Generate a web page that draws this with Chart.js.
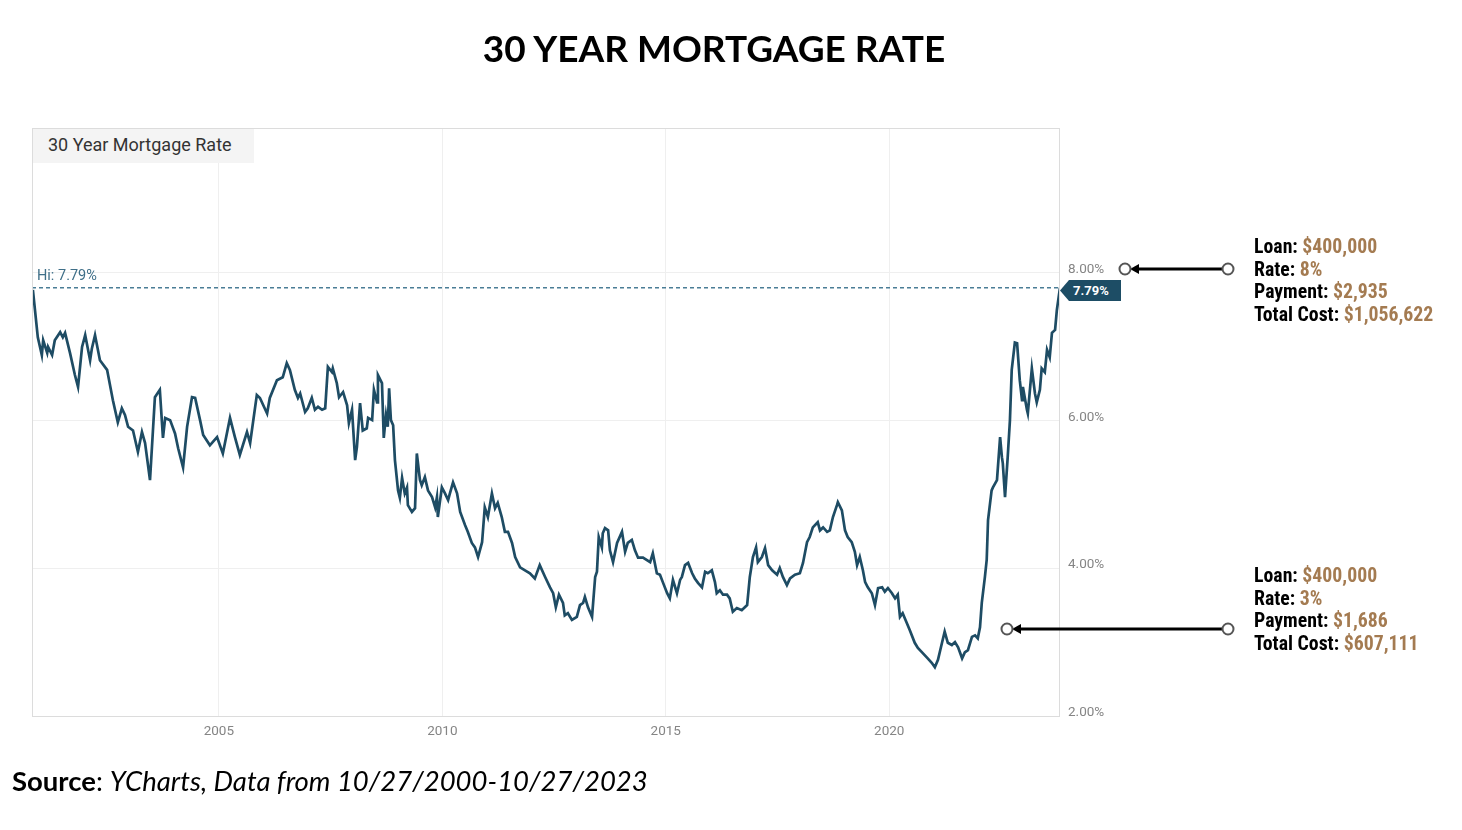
<!DOCTYPE html>
<html lang="en">
<head>
  <meta charset="UTF-8">
  <title>30 Year Mortgage Rate</title>
  <script src="https://cdn.jsdelivr.net/npm/chart.js"></script>
  <style>
    /* page frame: everything sits on a fixed 1462x830 stage */
    body { margin: 0; background: #fff; }
    #stage { position: relative; width: 1462px; height: 830px; overflow: hidden; }
    #stage canvas { position: absolute; left: 0; top: 0; }
    .title {
      position: absolute; left: 0; width: 1428px; top: 26px; text-align: center;
      font: 700 37px Lato, 'Open Sans', sans-serif; color: #000; line-height: 44px;
    }
    .boxLabel {
      position: absolute; left: 33px; top: 129px; width: 221px; height: 34px;
      background: #f4f4f4; font: 400 18px Roboto, sans-serif; color: #333;
      line-height: 32px; padding-left: 15px; box-sizing: border-box;
    }
    .hiLabel {
      position: absolute; left: 37px; top: 267px;
      font: 400 14.5px Roboto, sans-serif; color: #3f6f88; line-height: 18px;
    }
    .tag {
      position: absolute; left: 1060px; top: 280px; width: 61px; height: 21px;
      background: #1d4d65; color: #fff; font: 700 13px Roboto, sans-serif;
      line-height: 21px; padding-left: 13px; box-sizing: border-box;
      clip-path: polygon(0 50%, 9px 0, 100% 0, 100% 100%, 9px 100%);
    }
    .note {
      position: absolute; left: 1254px;
      font: 700 19.8px 'Liberation Sans Narrow', 'Roboto Condensed', 'DejaVu Sans Condensed', Roboto, sans-serif;
      line-height: 22.7px; color: #000; white-space: nowrap;
    }
    .note span { color: #a47b51; }
    .source {
      position: absolute; left: 12px; top: 763px;
      font: 400 27.5px Lato, 'Open Sans', sans-serif; color: #000; line-height: 36px;
    }
    .source b { font-weight: 700; }
    .source i { font-style: italic; }
  </style>
</head>
<body>
<div id="stage">
  <canvas id="rateChart" width="1462" height="830"></canvas>
  <div class="title">30 YEAR MORTGAGE RATE</div>
  <div class="boxLabel">30 Year Mortgage Rate</div>
  <div class="hiLabel" id="hiLabel"></div>
  <div class="tag" id="lastTag"></div>
  <div class="note" style="top:236px">
    Loan: <span>$400,000</span><br>Rate: <span>8%</span><br>Payment: <span>$2,935</span><br>Total Cost: <span>$1,056,622</span>
  </div>
  <div class="note" style="top:565px">
    Loan: <span>$400,000</span><br>Rate: <span>3%</span><br>Payment: <span>$1,686</span><br>Total Cost: <span>$607,111</span>
  </div>
  <div class="source"><b>Source</b>: <i>YCharts, Data from 10/27/2000-10/27/2023</i></div>
</div>

<script>
  // weekly-ish readings of the 30 year fixed rate (decimal year, percent)
  const dates = [
    2000.84, 2000.95,
    2001.04, 2001.07, 2001.16, 2001.18, 2001.27, 2001.33, 2001.45, 2001.51, 2001.56, 2001.67, 2001.78, 2001.85, 2001.94,
    2002.01, 2002.12, 2002.16, 2002.23, 2002.34, 2002.50, 2002.63, 2002.74, 2002.83, 2002.90, 2002.97,
    2003.08, 2003.19, 2003.28, 2003.35, 2003.46, 2003.57, 2003.68, 2003.75, 2003.80, 2003.91,
    2004.02, 2004.09, 2004.20, 2004.29, 2004.40, 2004.47, 2004.58, 2004.65, 2004.80, 2004.96,
    2005.09, 2005.25, 2005.36, 2005.47, 2005.63, 2005.70, 2005.85, 2005.92,
    2006.08, 2006.14, 2006.30, 2006.43, 2006.52, 2006.59, 2006.70, 2006.77, 2006.82, 2006.93, 2006.99,
    2007.08, 2007.15, 2007.22, 2007.31, 2007.38, 2007.44, 2007.53, 2007.55, 2007.64, 2007.69, 2007.78, 2007.87, 2007.91, 2007.98,
    2008.05, 2008.09, 2008.16, 2008.22, 2008.31, 2008.34, 2008.43, 2008.47, 2008.54, 2008.56, 2008.65, 2008.69, 2008.74, 2008.78, 2008.81, 2008.85, 2008.90, 2008.94,
    2009.01, 2009.05, 2009.10, 2009.16, 2009.21, 2009.23, 2009.32, 2009.39, 2009.43, 2009.50, 2009.54, 2009.61, 2009.68, 2009.77, 2009.84, 2009.88, 2009.90, 2009.99,
    2010.06, 2010.13, 2010.17, 2010.24, 2010.33, 2010.40, 2010.51, 2010.57, 2010.66, 2010.73, 2010.80, 2010.89, 2010.95,
    2011.02, 2011.11, 2011.18, 2011.24, 2011.33, 2011.40, 2011.47, 2011.56, 2011.63, 2011.74, 2011.85, 2011.96,
    2012.07, 2012.18, 2012.30, 2012.41, 2012.48, 2012.54, 2012.61, 2012.70, 2012.74, 2012.81, 2012.90,
    2013.01, 2013.08, 2013.15, 2013.19, 2013.26, 2013.35, 2013.42, 2013.46, 2013.50, 2013.57, 2013.59, 2013.64, 2013.71, 2013.75, 2013.82, 2013.91,
    2014.02, 2014.09, 2014.15, 2014.24, 2014.31, 2014.38, 2014.49, 2014.65, 2014.71, 2014.80, 2014.87, 2014.94,
    2015.03, 2015.09, 2015.16, 2015.25, 2015.32, 2015.36, 2015.43, 2015.50, 2015.59, 2015.65, 2015.72, 2015.81, 2015.88, 2015.94,
    2016.03, 2016.10, 2016.14, 2016.21, 2016.28, 2016.37, 2016.43, 2016.50, 2016.59, 2016.70, 2016.82, 2016.88, 2016.95,
    2017.02, 2017.06, 2017.15, 2017.22, 2017.29, 2017.38, 2017.49, 2017.55, 2017.62, 2017.71, 2017.78, 2017.89,
    2018.00, 2018.07, 2018.16, 2018.22, 2018.29, 2018.40, 2018.45, 2018.52, 2018.61, 2018.67, 2018.74, 2018.83, 2018.85, 2018.94,
    2019.01, 2019.07, 2019.16, 2019.23, 2019.28, 2019.34, 2019.41, 2019.46, 2019.52, 2019.61, 2019.68, 2019.75, 2019.84, 2019.90, 2019.97,
    2020.06, 2020.13, 2020.19, 2020.24, 2020.30, 2020.39, 2020.46, 2020.57, 2020.64, 2020.75, 2020.86, 2020.95,
    2021.02, 2021.09, 2021.18, 2021.24, 2021.31, 2021.40, 2021.47, 2021.54, 2021.63, 2021.69, 2021.76, 2021.85, 2021.92, 2021.98,
    2022.03, 2022.07, 2022.14, 2022.18, 2022.21, 2022.29, 2022.32, 2022.41, 2022.48, 2022.52, 2022.54, 2022.59, 2022.65, 2022.70, 2022.74, 2022.81, 2022.86, 2022.92, 2022.97, 2022.99,
    2023.08, 2023.10, 2023.19, 2023.26, 2023.30, 2023.37, 2023.41, 2023.48, 2023.53, 2023.59, 2023.64, 2023.71, 2023.75, 2023.82
  ];
  const rates = [
    7.76, 7.12,
    6.88, 7.08, 6.91, 6.99, 6.88, 7.08, 7.19, 7.12, 7.18, 6.91, 6.61, 6.45, 6.99,
    7.15, 6.81, 6.97, 7.15, 6.81, 6.68, 6.27, 5.97, 6.16, 6.07, 5.91,
    5.86, 5.57, 5.84, 5.69, 5.19, 6.31, 6.41, 5.76, 6.03, 6.00,
    5.82, 5.62, 5.36, 5.91, 6.31, 6.30, 6.00, 5.80, 5.66, 5.77,
    5.55, 6.03, 5.77, 5.53, 5.84, 5.69, 6.34, 6.30,
    6.09, 6.30, 6.54, 6.58, 6.77, 6.68, 6.41, 6.30, 6.36, 6.11, 6.16,
    6.30, 6.14, 6.18, 6.14, 6.16, 6.72, 6.65, 6.70, 6.50, 6.31, 6.38, 6.20, 5.96, 6.14,
    5.46, 5.64, 6.23, 5.86, 5.89, 6.03, 6.00, 6.41, 6.24, 6.61, 6.50, 5.76, 6.07, 5.91, 6.43, 6.00, 5.93, 5.46,
    5.05, 4.95, 5.22, 5.01, 5.09, 4.85, 4.76, 4.81, 5.55, 5.19, 5.12, 5.23, 5.05, 4.96, 4.82, 4.96, 4.69, 5.09,
    5.01, 4.92, 5.01, 5.16, 5.01, 4.76, 4.58, 4.49, 4.34, 4.28, 4.15, 4.35, 4.82,
    4.69, 5.01, 4.81, 4.88, 4.69, 4.49, 4.49, 4.34, 4.15, 4.01, 3.97, 3.93,
    3.86, 4.04, 3.88, 3.74, 3.66, 3.47, 3.64, 3.53, 3.36, 3.39, 3.30,
    3.34, 3.50, 3.53, 3.61, 3.47, 3.34, 3.88, 3.95, 4.42, 4.28, 4.47, 4.54, 4.51, 4.24, 4.08, 4.34,
    4.49, 4.22, 4.34, 4.38, 4.24, 4.14, 4.14, 4.08, 4.20, 3.93, 3.91, 3.80,
    3.66, 3.59, 3.84, 3.66, 3.84, 3.88, 4.04, 4.07, 3.93, 3.86, 3.80, 3.74, 3.95, 3.93,
    3.97, 3.81, 3.66, 3.70, 3.64, 3.64, 3.59, 3.41, 3.46, 3.43, 3.50, 3.88, 4.15,
    4.28, 4.08, 4.15, 4.27, 4.04, 3.97, 3.91, 4.00, 3.88, 3.77, 3.86, 3.91,
    3.93, 4.07, 4.35, 4.42, 4.55, 4.62, 4.51, 4.55, 4.49, 4.51, 4.69, 4.85, 4.89, 4.78,
    4.51, 4.42, 4.35, 4.22, 4.04, 4.15, 3.97, 3.81, 3.74, 3.66, 3.50, 3.73, 3.74, 3.68, 3.73,
    3.66, 3.59, 3.64, 3.34, 3.39, 3.26, 3.16, 2.99, 2.92, 2.85, 2.78, 2.72,
    2.66, 2.76, 2.99, 3.14, 2.99, 2.96, 3.00, 2.93, 2.78, 2.86, 2.89, 3.07, 3.09, 3.05,
    3.20, 3.53, 3.88, 4.11, 4.65, 5.05, 5.09, 5.19, 5.77, 5.50, 5.42, 4.96, 5.50, 6.00, 6.68, 7.05, 7.04, 6.54, 6.27, 6.45,
    6.14, 6.09, 6.70, 6.36, 6.24, 6.41, 6.70, 6.65, 6.95, 6.85, 7.18, 7.22, 7.49, 7.79
  ];
  const yearTicks = [2005, 2010, 2015, 2020];
  const rateTicks = [2, 4, 6, 8];
  const startYear = 2000.82;   // 10/27/2000
  const endYear = 2023.82;     // 10/27/2023

  const hiValue = Math.max(...rates);
  const lastValue = rates[rates.length - 1];
  document.getElementById('hiLabel').textContent = 'Hi: ' + hiValue.toFixed(2) + '%';
  document.getElementById('lastTag').textContent = lastValue.toFixed(2) + '%';

  // frame round the plot + the two arrows pointing back to the rate axis
  const extras = {
    id: 'extras',
    afterDraw(chart) {
      const { ctx, chartArea: a } = chart;
      ctx.save();
      ctx.strokeStyle = '#dcdcdc';
      ctx.lineWidth = 1;
      ctx.strokeRect(a.left + 0.5, a.top + 0.5, a.right - a.left - 1, a.bottom - a.top);

      function arrow(x1, x2, y) {
        ctx.strokeStyle = '#000';
        ctx.lineWidth = 3;
        ctx.beginPath();
        ctx.moveTo(x2 - 6, y);
        ctx.lineTo(x1 + 12, y);
        ctx.stroke();
        ctx.fillStyle = '#000';
        ctx.beginPath();
        ctx.moveTo(x1 + 5, y);
        ctx.lineTo(x1 + 14, y - 5);
        ctx.lineTo(x1 + 14, y + 5);
        ctx.closePath();
        ctx.fill();
        [x1, x2].forEach(x => {
          ctx.beginPath();
          ctx.arc(x, y, 5.5, 0, Math.PI * 2);
          ctx.fillStyle = '#fff';
          ctx.fill();
          ctx.strokeStyle = '#555';
          ctx.lineWidth = 2;
          ctx.stroke();
        });
      }
      arrow(1125, 1228, 269);
      arrow(1007, 1228, 629);
      ctx.restore();
    }
  };

  new Chart(document.getElementById('rateChart'), {
    type: 'line',
    data: {
      datasets: [
        {
          data: dates.map((d, i) => ({ x: d, y: rates[i] })),
          borderColor: '#1e4c64',
          borderWidth: 2.7,
          pointRadius: 0,
          tension: 0
        },
        {
          data: [{ x: startYear, y: hiValue }, { x: endYear, y: hiValue }],
          borderColor: '#4a7d96',
          borderWidth: 1.3,
          borderDash: [4, 3],
          pointRadius: 0
        }
      ]
    },
    options: {
      responsive: false,
      animation: false,
      layout: { padding: { left: 32, top: 128, right: 0, bottom: 0 } },
      plugins: { legend: { display: false }, tooltip: { enabled: false } },
      scales: {
        x: {
          type: 'linear',
          min: startYear,
          max: endYear,
          afterBuildTicks: s => { s.ticks = yearTicks.map(v => ({ value: v })); },
          afterFit: s => { s.height = 114; },
          grid: { color: '#efefef', drawTicks: false },
          border: { display: false },
          ticks: {
            callback: v => String(v),
            color: '#858585',
            font: { family: 'Roboto', size: 13.5 },
            padding: 8,
            maxRotation: 0
          }
        },
        y: {
          position: 'right',
          min: 2,
          max: 9.95,
          afterBuildTicks: s => { s.ticks = rateTicks.map(v => ({ value: v })); },
          afterFit: s => { s.width = 402; },
          grid: { color: '#efefef', drawTicks: false },
          border: { display: false },
          ticks: {
            callback: v => v.toFixed(2) + '%',
            color: '#858585',
            font: { family: 'Roboto', size: 13.5 },
            padding: 8,
            labelOffset: -3
          }
        }
      }
    },
    plugins: [extras]
  });
</script>
</body>
</html>
